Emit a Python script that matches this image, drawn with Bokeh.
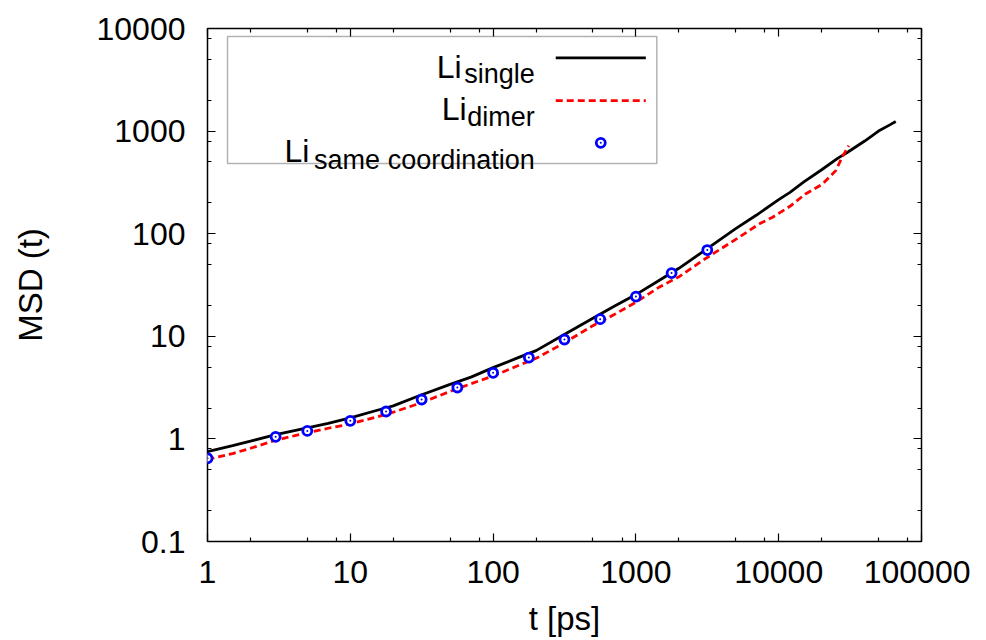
from bokeh.plotting import figure
from bokeh.models import (Range1d, FixedTicker, LogAxis, CustomJSTickFormatter,
                          Label, BoxAnnotation)
from bokeh.embed import file_html
from bokeh.resources import INLINE

# ---------------- data ----------------
t_single = [1, 1.5, 2, 3, 5, 7, 10, 15, 20, 30, 50, 70, 100, 150, 200, 300,
            500, 700, 1000, 1500, 2000, 3000, 5000, 7000, 10000, 12000, 15000,
            20000, 26000, 30000, 40000, 50000, 60000, 66000]
msd_single = [0.75, 0.86, 0.95, 1.10, 1.28, 1.42, 1.60, 1.88, 2.10, 2.62, 3.40,
              4.00, 4.95, 6.20, 7.25, 10.0, 15.0, 19.5, 25.5, 36.0, 46.0, 68.0,
              112, 152, 215, 253, 320, 420, 545, 615, 800, 1000, 1150, 1240]

t_dimer = [1, 1.5, 2, 3, 5, 7, 10, 15, 20, 30, 50, 70, 100, 136, 200, 300,
           500, 700, 1000, 1450, 2000, 3000, 5260, 7260, 9000, 12000, 15400,
           20300, 25100, 27800, 30900]
msd_dimer = [0.63, 0.72, 0.81, 0.97, 1.15, 1.27, 1.40, 1.62, 1.82, 2.20, 2.90,
             3.45, 4.10, 4.90, 6.10, 8.30, 12.7, 16.2, 21.5, 30.0, 38.0, 56.0,
             92, 124, 144, 185, 244, 305, 412, 555, 722]

t_same = [1, 3, 5, 10, 17.8, 31.6, 56.2, 100, 178, 316, 562, 1000, 1778, 3162]
msd_same = [0.648, 1.047, 1.197, 1.50, 1.85, 2.42, 3.17, 4.41, 6.21, 9.31,
            14.7, 24.4, 41.3, 69.3]

x_major = [1, 10, 100, 1000, 10000, 100000]
x_minor = [2, 5, 8, 20, 50, 80, 200, 500, 800, 2000, 5000, 8000,
           20000, 50000, 80000]
y_major = [0.1, 1, 10, 100, 1000, 10000]
y_minor = [0.2, 0.5, 0.8, 2, 5, 8, 20, 50, 80, 200, 500, 800,
           2000, 5000, 8000]

legend_names = ["single", "dimer", "same coordination"]

FONT = "Liberation Sans"

# ---------------- figure ----------------
p = figure(width=970, height=640, x_axis_type="log", y_axis_type="log",
           x_range=Range1d(1, 100000), y_range=Range1d(0.1, 10000),
           output_backend="svg", toolbar_location=None,
           min_border_left=207, min_border_right=49,
           min_border_top=28, min_border_bottom=99)
p.grid.visible = False
p.outline_line_color = "black"
p.outline_line_width = 1.5
p.background_fill_color = "white"
p.border_fill_color = "white"

fmt = CustomJSTickFormatter(code="return tick >= 1 ? tick.toFixed(0) : tick.toFixed(1);")
blank = CustomJSTickFormatter(code="return '';")


def style_axis(ax, ticker, show_labels):
    ax.ticker = ticker
    ax.major_tick_in = 8
    ax.major_tick_out = 0
    ax.minor_tick_in = 4
    ax.minor_tick_out = 0
    ax.major_tick_line_color = "black"
    ax.minor_tick_line_color = "black"
    ax.major_tick_line_width = 1.2
    ax.minor_tick_line_width = 1.2
    ax.axis_line_color = None
    ax.major_label_text_font = FONT
    ax.major_label_text_color = "black"
    if show_labels:
        ax.formatter = fmt
        ax.major_label_text_font_size = "32px"
    else:
        ax.formatter = blank
        ax.major_label_text_font_size = "2px"
        ax.major_label_standoff = 0


xt = FixedTicker(ticks=x_major, minor_ticks=x_minor)
yt = FixedTicker(ticks=y_major, minor_ticks=y_minor)

style_axis(p.xaxis[0], xt, True)
style_axis(p.yaxis[0], yt, True)
p.xaxis[0].major_label_standoff = 19
p.yaxis[0].major_label_standoff = 22

p.xaxis[0].axis_label = "t [ps]"
p.yaxis[0].axis_label = "MSD (t)"
for ax in (p.xaxis[0], p.yaxis[0]):
    ax.axis_label_text_font = FONT
    ax.axis_label_text_font_size = "33px"
    ax.axis_label_text_font_style = "normal"
    ax.axis_label_text_color = "black"
p.xaxis[0].axis_label_standoff = 14
p.yaxis[0].axis_label_standoff = 45

top = LogAxis()
style_axis(top, FixedTicker(ticks=x_major, minor_ticks=x_minor), False)
p.add_layout(top, "above")
right = LogAxis()
style_axis(right, FixedTicker(ticks=y_major, minor_ticks=y_minor), False)
p.add_layout(right, "right")

# ---------------- data marks ----------------
p.line(t_single, msd_single, line_color="black", line_width=2.8)
p.line(t_dimer, msd_dimer, line_color="#ff0000", line_width=2.8, line_dash="7 4")
p.scatter(t_same, msd_same, size=9, line_color="#0000ff", line_width=2.8,
          fill_color="white")
p.scatter(t_same, msd_same, size=2, line_color=None, fill_color="#0000ff")

# ---------------- layout helpers (reference pixel -> data position) ----------------
X0, X1, Y0, Y1 = 209.0, 922.5, 28.0, 540.7


def fx(px):
    return 10 ** ((px - X0) / (X1 - X0) * 5)


def fy(py):
    return 10 ** (4 - (py - Y0) / (Y1 - Y0) * 5)


# ---------------- legend (drawn by hand for subscripts) ----------------
p.add_layout(BoxAnnotation(left=fx(229), right=fx(658), top=fy(36), bottom=fy(163),
                           fill_color="white", fill_alpha=1.0,
                           line_color="black", line_width=1.5, level="underlay"))

li_x = [438, 443, 286]
li_base = [66, 108.3, 150.7]
sub_base = [73.3, 116.7, 159.3]
for name, lx, lb, sb in zip(legend_names, li_x, li_base, sub_base):
    p.add_layout(Label(x=fx(lx), y=fy(lb), text="Li", text_font=FONT,
                       text_font_size="32px", text_color="black",
                       text_baseline="alphabetic", text_align="left"))
    p.add_layout(Label(x=fx(536), y=fy(sb), text=name, text_font=FONT,
                       text_font_size="27px", text_color="black",
                       text_baseline="alphabetic", text_align="right"))

p.line([fx(557), fx(647)], [fy(57.3), fy(57.3)], line_color="black", line_width=2.8)
p.line([fx(557), fx(647)], [fy(100), fy(100)], line_color="#ff0000",
       line_width=2.8, line_dash="7 4")
p.scatter([fx(602)], [fy(142.3)], size=9, line_color="#0000ff", line_width=2.8,
          fill_color="white")
p.scatter([fx(602)], [fy(142.3)], size=2, line_color=None, fill_color="#0000ff")

open("out.html", "w").write(file_html(p, INLINE))
